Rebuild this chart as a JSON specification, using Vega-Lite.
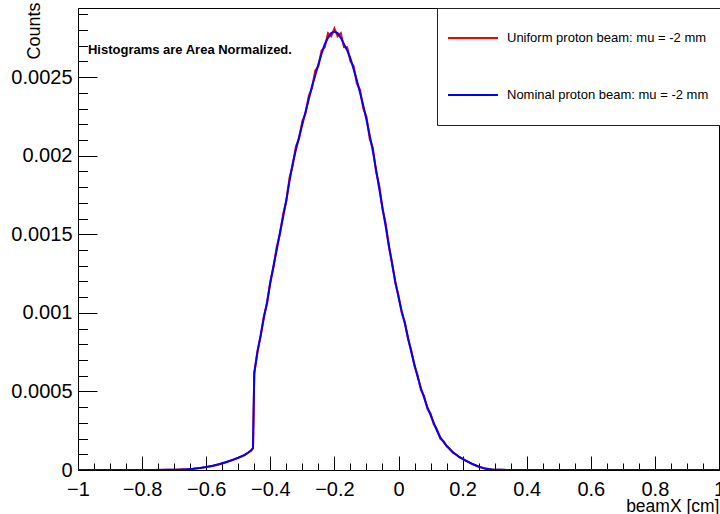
{
  "$schema": "https://vega.github.io/schema/vega-lite/v6.json",
  "autosize": "none",
  "width": 641,
  "height": 462,
  "padding": {"left": 78, "top": 8, "right": 1, "bottom": 44},
  "background": "white",
  "config": {"view": {"stroke": "black", "strokeWidth": 1}},
  "datasets": {
    "uniform": [
      {"x": -1, "y": 0}, {"x": -0.76, "y": 0}, {"x": -0.72, "y": 0.000001}, {"x": -0.7, "y": 0.000002},
      {"x": -0.68, "y": 0.000003}, {"x": -0.66, "y": 0.000004}, {"x": -0.64, "y": 0.000008}, {"x": -0.62, "y": 0.000012},
      {"x": -0.6, "y": 0.000019}, {"x": -0.58, "y": 0.000026}, {"x": -0.56, "y": 0.000036}, {"x": -0.54, "y": 0.000048},
      {"x": -0.52, "y": 0.000062}, {"x": -0.5, "y": 0.000077}, {"x": -0.48, "y": 0.000095}, {"x": -0.47, "y": 0.000108},
      {"x": -0.46, "y": 0.000122}, {"x": -0.454, "y": 0.000138}, {"x": -0.45, "y": 0.00061},
      {"x": -0.44, "y": 0.00076}, {"x": -0.43, "y": 0.00085}, {"x": -0.42, "y": 0.00098}, {"x": -0.41, "y": 0.00106},
      {"x": -0.4, "y": 0.0012}, {"x": -0.39, "y": 0.00129}, {"x": -0.38, "y": 0.00142}, {"x": -0.37, "y": 0.0015},
      {"x": -0.36, "y": 0.00163}, {"x": -0.35, "y": 0.00171}, {"x": -0.34, "y": 0.00186}, {"x": -0.33, "y": 0.00194},
      {"x": -0.32, "y": 0.00206}, {"x": -0.31, "y": 0.00211}, {"x": -0.3, "y": 0.00222}, {"x": -0.29, "y": 0.00227},
      {"x": -0.28, "y": 0.00238}, {"x": -0.27, "y": 0.00243}, {"x": -0.26, "y": 0.00254}, {"x": -0.25, "y": 0.00257},
      {"x": -0.24, "y": 0.00267}, {"x": -0.23, "y": 0.00269}, {"x": -0.22, "y": 0.00278}, {"x": -0.21, "y": 0.00276},
      {"x": -0.2, "y": 0.00281}, {"x": -0.19, "y": 0.00276}, {"x": -0.18, "y": 0.00278}, {"x": -0.17, "y": 0.00269},
      {"x": -0.16, "y": 0.00269}, {"x": -0.15, "y": 0.0026}, {"x": -0.14, "y": 0.00257}, {"x": -0.13, "y": 0.00246},
      {"x": -0.12, "y": 0.00242}, {"x": -0.11, "y": 0.0023}, {"x": -0.1, "y": 0.00225}, {"x": -0.09, "y": 0.00211},
      {"x": -0.08, "y": 0.00205}, {"x": -0.07, "y": 0.0019}, {"x": -0.06, "y": 0.00181}, {"x": -0.05, "y": 0.00166},
      {"x": -0.04, "y": 0.00157}, {"x": -0.03, "y": 0.00142}, {"x": -0.02, "y": 0.00132}, {"x": -0.01, "y": 0.00119},
      {"x": 0, "y": 0.00111}, {"x": 0.01, "y": 0.001}, {"x": 0.02, "y": 0.00094}, {"x": 0.03, "y": 0.00083},
      {"x": 0.04, "y": 0.00076}, {"x": 0.05, "y": 0.00066}, {"x": 0.06, "y": 0.0006}, {"x": 0.07, "y": 0.00051},
      {"x": 0.08, "y": 0.00047}, {"x": 0.09, "y": 0.00039}, {"x": 0.1, "y": 0.00036}, {"x": 0.11, "y": 0.00029},
      {"x": 0.12, "y": 0.00026}, {"x": 0.13, "y": 0.0002}, {"x": 0.14, "y": 0.000185}, {"x": 0.15, "y": 0.00015},
      {"x": 0.16, "y": 0.000135}, {"x": 0.17, "y": 0.00011}, {"x": 0.18, "y": 0.000098}, {"x": 0.19, "y": 0.00008},
      {"x": 0.2, "y": 0.000072}, {"x": 0.21, "y": 0.000058}, {"x": 0.22, "y": 0.00005}, {"x": 0.23, "y": 0.000038},
      {"x": 0.24, "y": 0.00003}, {"x": 0.25, "y": 0.00002}, {"x": 0.26, "y": 0.000016}, {"x": 0.27, "y": 0.000009},
      {"x": 0.28, "y": 0.000007}, {"x": 0.29, "y": 0.000003}, {"x": 0.3, "y": 0.000002}, {"x": 0.32, "y": 0.000001},
      {"x": 0.34, "y": 0}, {"x": 1, "y": 0}
    ],
    "nominal": [
      {"x": -1, "y": 0}, {"x": -0.76, "y": 0}, {"x": -0.72, "y": 0.000001}, {"x": -0.7, "y": 0.000002},
      {"x": -0.68, "y": 0.000003}, {"x": -0.66, "y": 0.000005}, {"x": -0.64, "y": 0.000008}, {"x": -0.62, "y": 0.000013},
      {"x": -0.6, "y": 0.000019}, {"x": -0.58, "y": 0.000027}, {"x": -0.56, "y": 0.000037}, {"x": -0.54, "y": 0.000049},
      {"x": -0.52, "y": 0.000063}, {"x": -0.5, "y": 0.000078}, {"x": -0.48, "y": 0.000096}, {"x": -0.47, "y": 0.00011},
      {"x": -0.46, "y": 0.000125}, {"x": -0.454, "y": 0.00014}, {"x": -0.45, "y": 0.00062},
      {"x": -0.44, "y": 0.00075}, {"x": -0.43, "y": 0.00086}, {"x": -0.42, "y": 0.00097}, {"x": -0.41, "y": 0.00107},
      {"x": -0.4, "y": 0.00119}, {"x": -0.39, "y": 0.0013}, {"x": -0.38, "y": 0.0014}, {"x": -0.37, "y": 0.00151},
      {"x": -0.36, "y": 0.00161}, {"x": -0.35, "y": 0.00172}, {"x": -0.34, "y": 0.00184}, {"x": -0.33, "y": 0.00195},
      {"x": -0.32, "y": 0.00204}, {"x": -0.31, "y": 0.00212}, {"x": -0.3, "y": 0.0022}, {"x": -0.29, "y": 0.00228},
      {"x": -0.28, "y": 0.00236}, {"x": -0.27, "y": 0.00244}, {"x": -0.26, "y": 0.00251}, {"x": -0.25, "y": 0.00258},
      {"x": -0.24, "y": 0.00265}, {"x": -0.23, "y": 0.00271}, {"x": -0.22, "y": 0.00275}, {"x": -0.21, "y": 0.00278},
      {"x": -0.2, "y": 0.00279}, {"x": -0.19, "y": 0.00278}, {"x": -0.18, "y": 0.00275}, {"x": -0.17, "y": 0.00271},
      {"x": -0.16, "y": 0.00267}, {"x": -0.15, "y": 0.00262}, {"x": -0.14, "y": 0.00255}, {"x": -0.13, "y": 0.00248},
      {"x": -0.12, "y": 0.0024}, {"x": -0.11, "y": 0.00232}, {"x": -0.1, "y": 0.00223}, {"x": -0.09, "y": 0.00213},
      {"x": -0.08, "y": 0.00203}, {"x": -0.07, "y": 0.00191}, {"x": -0.06, "y": 0.00179}, {"x": -0.05, "y": 0.00167},
      {"x": -0.04, "y": 0.00155}, {"x": -0.03, "y": 0.00143}, {"x": -0.02, "y": 0.00131}, {"x": -0.01, "y": 0.0012},
      {"x": 0, "y": 0.0011}, {"x": 0.01, "y": 0.00101}, {"x": 0.02, "y": 0.00093}, {"x": 0.03, "y": 0.00084},
      {"x": 0.04, "y": 0.00075}, {"x": 0.05, "y": 0.00067}, {"x": 0.06, "y": 0.00059}, {"x": 0.07, "y": 0.00052},
      {"x": 0.08, "y": 0.00046}, {"x": 0.09, "y": 0.0004}, {"x": 0.1, "y": 0.00035}, {"x": 0.11, "y": 0.0003},
      {"x": 0.12, "y": 0.00025}, {"x": 0.13, "y": 0.00021}, {"x": 0.14, "y": 0.00018}, {"x": 0.15, "y": 0.000155},
      {"x": 0.16, "y": 0.000132}, {"x": 0.17, "y": 0.000113}, {"x": 0.18, "y": 0.000097}, {"x": 0.19, "y": 0.000083},
      {"x": 0.2, "y": 0.000071}, {"x": 0.21, "y": 0.00006}, {"x": 0.22, "y": 0.000049}, {"x": 0.23, "y": 0.000039},
      {"x": 0.24, "y": 0.00003}, {"x": 0.25, "y": 0.000022}, {"x": 0.26, "y": 0.000015}, {"x": 0.27, "y": 0.00001},
      {"x": 0.28, "y": 0.000006}, {"x": 0.29, "y": 0.000004}, {"x": 0.3, "y": 0.000002}, {"x": 0.32, "y": 0.000001},
      {"x": 0.34, "y": 0}, {"x": 1, "y": 0}
    ]
  },
  "layer": [
    {
      "data": {"name": "uniform"},
      "mark": {"type": "line", "strokeWidth": 2, "clip": true},
      "encoding": {
        "x": {
          "field": "x", "type": "quantitative",
          "scale": {"domain": [-1, 1], "nice": false, "zero": false},
          "axis": {
            "title": "beamX [cm]",
            "values": [-1,-0.95,-0.9,-0.85,-0.8,-0.75,-0.7,-0.65,-0.6,-0.55,-0.5,-0.45,-0.4,-0.35,-0.3,-0.25,-0.2,-0.15,-0.1,-0.05,0,0.05,0.1,0.15,0.2,0.25,0.3,0.35,0.4,0.45,0.5,0.55,0.6,0.65,0.7,0.75,0.8,0.85,0.9,0.95,1],
            "tickCount": 200,
            "tickSize": -14,
            "encoding": {"ticks": {"y2": {"condition": {"test": "abs(datum.value*5 - round(datum.value*5)) < 0.001", "value": -14}, "value": -7}}},
            "labelExpr": "abs(datum.value*5 - round(datum.value*5)) < 0.001 ? format(datum.value, '~g') : ''",
            "labelPadding": 23,
            "labelFlush": false,
            "labelOverlap": false,
            "labelFontSize": 20,
            "labelFont": "Liberation Sans",
            "labelColor": "black",
            "domainColor": "black",
            "tickColor": "black",
            "grid": false,
            "titleFont": "Liberation Sans",
            "titleFontSize": 17.5,
            "titleFontWeight": "normal",
            "titleColor": "black",
            "titleAnchor": "end",
            "titleAlign": "right",
            "titleX": 641,
            "titleY": 41,
            "titleBaseline": "alphabetic"
          }
        },
        "y": {
          "field": "y", "type": "quantitative",
          "scale": {"domain": [0, 0.00294], "nice": false, "zero": false},
          "axis": {
            "title": "Counts",
            "values": [0,0.0001,0.0002,0.0003,0.0004,0.0005,0.0006,0.0007,0.0008,0.0009,0.001,0.0011,0.0012,0.0013,0.0014,0.0015,0.0016,0.0017,0.0018,0.0019,0.002,0.0021,0.0022,0.0023,0.0024,0.0025,0.0026,0.0027,0.0028,0.0029],
            "tickCount": 200,
            "tickSize": -19,
            "encoding": {"ticks": {"x2": {"condition": {"test": "abs(datum.value*2000 - round(datum.value*2000)) < 0.001", "value": 19}, "value": 9.5}}},
            "labelExpr": "abs(datum.value*2000 - round(datum.value*2000)) < 0.001 ? format(datum.value, '~g') : ''",
            "labelPadding": 25,
            "labelOverlap": false,
            "labelFontSize": 20,
            "labelFont": "Liberation Sans",
            "labelColor": "black",
            "domainColor": "black",
            "tickColor": "black",
            "grid": false,
            "titleFont": "Liberation Sans",
            "titleFontSize": 18,
            "titleFontWeight": "normal",
            "titleColor": "black",
            "titleAngle": -90,
            "titleAnchor": "end",
            "titleAlign": "right",
            "titleX": -39,
            "titleY": -6,
            "titleBaseline": "alphabetic"
          }
        },
        "color": {
          "datum": "Uniform proton beam: mu = -2 mm", "type": "nominal",
          "scale": {"domain": ["Uniform proton beam: mu = -2 mm", "Nominal proton beam: mu = -2 mm"], "range": ["#ff0000", "#0000ff"]},
          "legend": {
            "orient": "none", "legendX": 359, "legendY": 0, "title": null,
            "symbolType": "M-1.389,0H1.389M0,0.78", "symbolSize": 1296, "symbolStrokeWidth": 2, "symbolOffset": 6,
            "labelFont": "Liberation Sans", "labelFontSize": 13, "labelColor": "black", "labelLimit": 400,
            "labelOffset": 15, "padding": 11, "rowPadding": 19,
            "strokeColor": "#222", "fillColor": "white"
          }
        }
      }
    },
    {
      "data": {"name": "nominal"},
      "mark": {"type": "line", "strokeWidth": 2, "clip": true},
      "encoding": {
        "x": {"field": "x", "type": "quantitative", "scale": {"domain": [-1, 1], "nice": false, "zero": false}},
        "y": {"field": "y", "type": "quantitative", "scale": {"domain": [0, 0.00294], "nice": false, "zero": false}},
        "color": {"datum": "Nominal proton beam: mu = -2 mm", "type": "nominal"}
      }
    },
    {
      "data": {"values": [{}]},
      "mark": {"type": "text", "align": "left", "baseline": "middle", "font": "Liberation Sans", "fontSize": 13, "fontWeight": "bold", "color": "black"},
      "encoding": {
        "x": {"datum": -0.969, "type": "quantitative", "scale": {"domain": [-1, 1], "nice": false, "zero": false}},
        "y": {"datum": 0.00267, "type": "quantitative", "scale": {"domain": [0, 0.00294], "nice": false, "zero": false}},
        "text": {"value": "Histograms are Area Normalized."}
      }
    }
  ]
}
